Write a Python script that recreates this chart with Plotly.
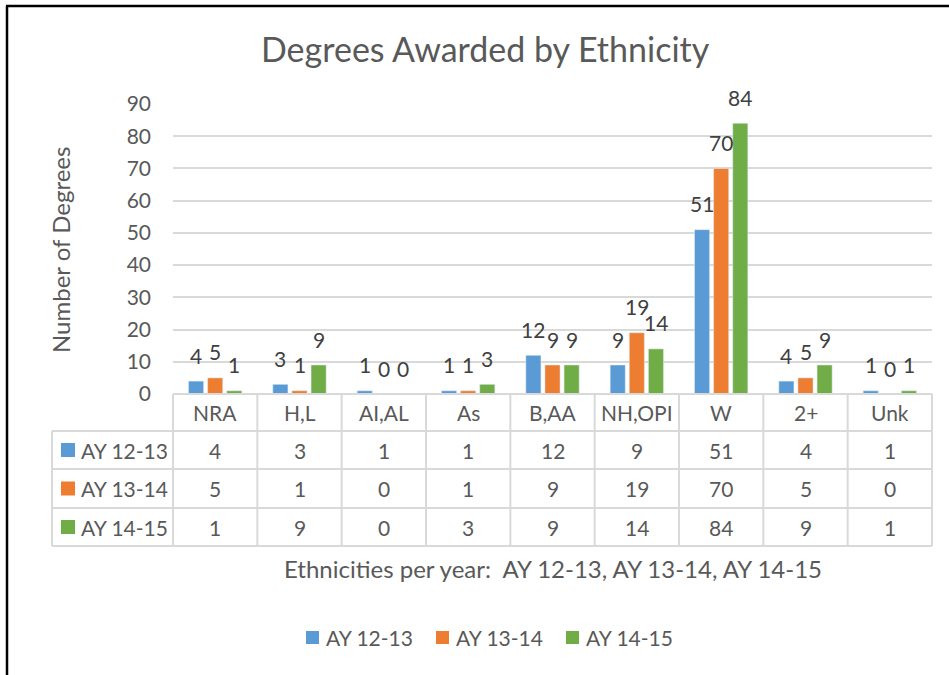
import plotly.graph_objects as go

categories = ["NRA", "H,L", "AI,AL", "As", "B,AA", "NH,OPI", "W", "2+", "Unk"]
series_names = ["AY 12-13", "AY 13-14", "AY 14-15"]
ay_12_13 = [4, 3, 1, 1, 12, 9, 51, 4, 1]
ay_13_14 = [5, 1, 0, 1, 9, 19, 70, 5, 0]
ay_14_15 = [1, 9, 0, 3, 9, 14, 84, 9, 1]
colors = ["#5B9BD5", "#ED7D31", "#70AD47"]
y_ticks = [0, 10, 20, 30, 40, 50, 60, 70, 80, 90]

W, H = 949, 675
FONT = "Lato"
TXT = "#595959"
GRID = "#D9D9D9"
BARGAP = 0.32


def px(x):
    return x / W


def py(y):
    return 1 - y / H


series = [ay_12_13, ay_13_14, ay_14_15]

fig = go.Figure()
for name, vals, col in zip(series_names, series, colors):
    fig.add_trace(go.Bar(
        x=categories, y=vals, name=name, marker_color=col,
        cliponaxis=False, showlegend=False, hoverinfo="name+x+y",
    ))

X0, X1 = 173, 932
Y0, Y1 = 394, 104

fig.update_layout(
    width=W, height=H,
    margin=dict(l=0, r=0, t=0, b=0, autoexpand=False),
    paper_bgcolor="white", plot_bgcolor="white",
    font=dict(family=FONT, color=TXT),
    barmode="group", bargap=BARGAP, bargroupgap=0.21,
    showlegend=False,
    xaxis=dict(domain=[px(X0), px(X1)], range=[-0.5, len(categories) - 0.5],
               showticklabels=False, showgrid=False, zeroline=False, showline=False),
    yaxis=dict(domain=[py(Y0), py(Y1)], range=[0, 90], tickvals=y_ticks,
               tickfont=dict(family=FONT, size=21, color=TXT),
               showgrid=True, gridcolor=GRID, gridwidth=1.5, zeroline=False,
               showline=False, ticks="", ticklabelstandoff=21),
)

shapes = []
ann = []

# data labels above bars
slot = (1 - BARGAP) / len(series)
for j, vals in enumerate(series):
    off = (j - (len(series) - 1) / 2) * slot
    for i, v in enumerate(vals):
        ann.append(dict(text=str(v), x=i + off, y=v, xref="x", yref="y", showarrow=False,
                        xanchor="center", yanchor="middle", yshift=26,
                        font=dict(family=FONT, size=21, color="#404040")))

# title
ann.append(dict(text="Degrees Awarded by Ethnicity", x=px(485), y=py(48), xref="paper", yref="paper",
                showarrow=False, font=dict(family=FONT, size=34, color=TXT), xanchor="center", yanchor="middle"))
# y title
ann.append(dict(text="Number of Degrees", x=px(60), y=py(250), xref="paper", yref="paper", textangle=-90,
                showarrow=False, font=dict(family=FONT, size=24, color=TXT), xanchor="center", yanchor="middle"))
# x title
ann.append(dict(text="Ethnicities per year:  AY 12-13, AY 13-14, AY 14-15", x=px(553), y=py(568),
                xref="paper", yref="paper", showarrow=False,
                font=dict(family=FONT, size=24, color=TXT), xanchor="center", yanchor="middle"))

# data table
row_lines = [394, 431, 469, 508, 546]
row_centers = [412, 450, 488.5, 527]
cw = (X1 - X0) / len(categories)
lc = dict(color=GRID, width=2)
shapes.append(dict(type="line", xref="paper", yref="paper", x0=px(X0), x1=px(X1), y0=py(394), y1=py(394), line=lc))
for yl in row_lines[1:]:
    shapes.append(dict(type="line", xref="paper", yref="paper", x0=px(52), x1=px(X1), y0=py(yl), y1=py(yl), line=lc))
for i in range(len(categories) + 1):
    xv = X0 + i * cw
    shapes.append(dict(type="line", xref="paper", yref="paper", x0=px(xv), x1=px(xv), y0=py(394), y1=py(546), line=lc))
shapes.append(dict(type="line", xref="paper", yref="paper", x0=px(52), x1=px(52), y0=py(431), y1=py(546), line=lc))

for i, c in enumerate(categories):
    ann.append(dict(text=c, x=i, xref="x", y=py(row_centers[0]), yref="paper", showarrow=False,
                    font=dict(family=FONT, size=21, color=TXT), xanchor="center", yanchor="middle"))
    for r, vals in enumerate(series):
        ann.append(dict(text=str(vals[i]), x=i, xref="x", y=py(row_centers[r + 1]), yref="paper",
                        showarrow=False, font=dict(family=FONT, size=21, color=TXT),
                        xanchor="center", yanchor="middle"))
for r, (name, col) in enumerate(zip(series_names, colors)):
    yc = row_centers[r + 1]
    shapes.append(dict(type="rect", xref="paper", yref="paper", x0=px(61), x1=px(75),
                       y0=py(yc + 7), y1=py(yc - 7), fillcolor=col, line=dict(width=0)))
    ann.append(dict(text=name, x=px(79), y=py(yc), xref="paper", yref="paper", showarrow=False,
                    font=dict(family=FONT, size=21, color=TXT), xanchor="left", yanchor="middle"))

# legend (bottom)
leg_x = [306, 436, 566]
for lx, name, col in zip(leg_x, series_names, colors):
    shapes.append(dict(type="rect", xref="paper", yref="paper", x0=px(lx), x1=px(lx + 13),
                       y0=py(644), y1=py(631), fillcolor=col, line=dict(width=0)))
    ann.append(dict(text=name, x=px(lx + 18), y=py(637), xref="paper", yref="paper", showarrow=False,
                    font=dict(family=FONT, size=21, color=TXT), xanchor="left", yanchor="middle"))

# outer frame (left and top edges)
shapes.append(dict(type="line", xref="paper", yref="paper", x0=px(7), x1=px(7), y0=py(6), y1=0,
                   line=dict(color="black", width=2.5)))
shapes.append(dict(type="line", xref="paper", yref="paper", x0=px(6), x1=1, y0=py(6), y1=py(6),
                   line=dict(color="black", width=2.5)))

fig.update_layout(shapes=shapes, annotations=ann)
fig.write_html("out.html", config={"displayModeBar": False},
               post_script="document.body.style.margin='0px';")
